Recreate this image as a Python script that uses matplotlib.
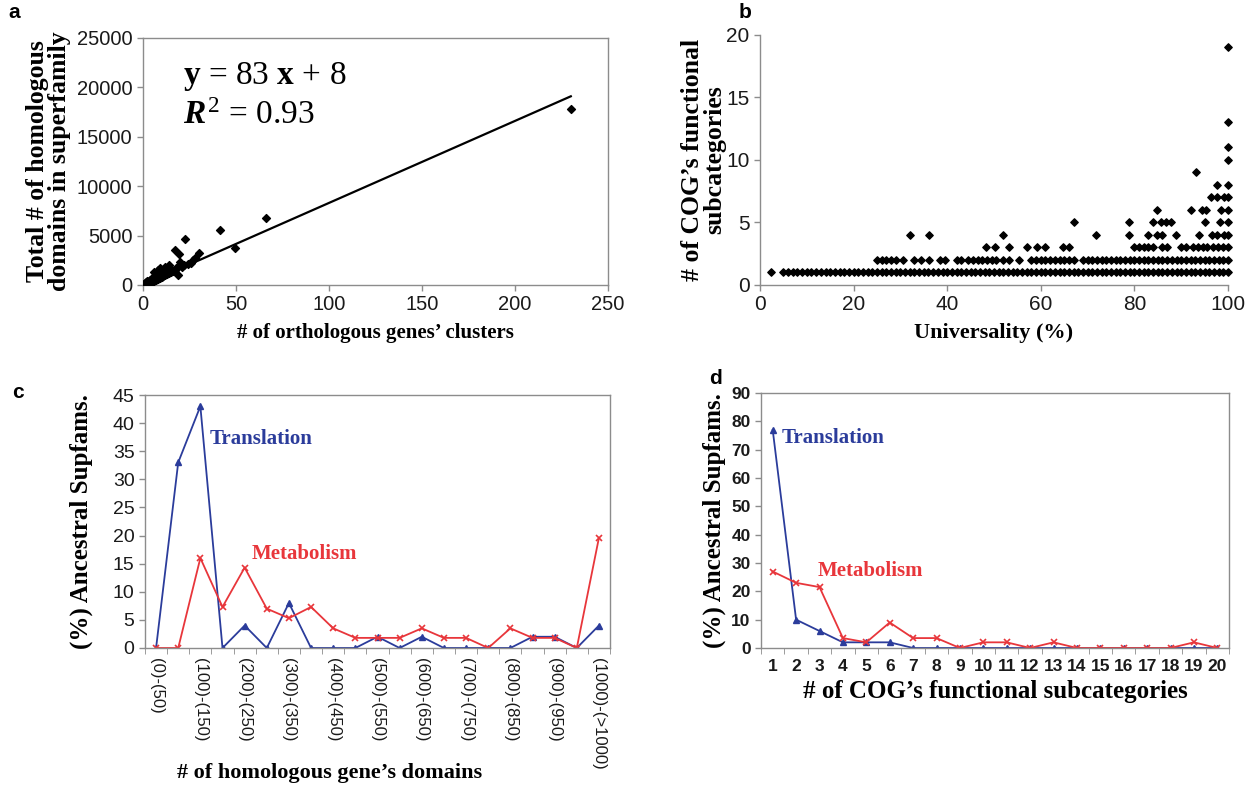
import numpy as np
import matplotlib
matplotlib.use('Agg')
import matplotlib.pyplot as plt

plt.rcParams['font.family'] = 'Liberation Sans'
plt.rcParams['mathtext.fontset'] = 'custom'
plt.rcParams['mathtext.rm'] = 'Liberation Serif'
plt.rcParams['mathtext.bf'] = 'Liberation Serif:bold'
plt.rcParams['mathtext.it'] = 'Liberation Serif:italic:bold'

SERIF = 'Liberation Serif'
SPINE = '#8c8c8c'
BLUE = '#2b3c9b'
RED = '#e8363b'

# --- panel a: superfamily size vs number of orthologous clusters ---
ortho_clusters = [0.5, 1, 1, 1.5, 1.5, 2, 2, 2, 2.5, 3, 3, 3, 3.5, 4, 4, 4, 4.5, 5, 5, 5,
                  5.5, 6, 6, 6, 6.5, 7, 7, 7, 7.5, 8, 8, 8, 9, 9, 9, 10, 10, 10, 11, 11,
                  12, 12, 13, 13, 14, 15, 15, 16, 17, 18, 19, 19, 20, 21, 22, 24, 26, 27, 28, 30,
                  17, 19.5, 22.4, 41.3, 49.4, 66.1, 230, 14, 12, 9, 6, 8]
homolog_domains = [60, 120, 200, 90, 300, 150, 250, 400, 180, 100, 300, 450, 250, 200, 350, 550, 400, 300, 500, 700,
                   450, 400, 600, 850, 550, 500, 700, 1100, 650, 600, 800, 1200, 700, 900, 1400, 800, 1000, 1300, 900, 1200,
                   1000, 1500, 1100, 1700, 1250, 1300, 1600, 1450, 1500, 1700, 1000, 1800, 2360, 1850, 2000, 2100, 2250, 2500, 2700, 3200,
                   3500, 3100, 4620, 5570, 3710, 6750, 17850, 2000, 1800, 1700, 1300, 1500]
fit_slope, fit_intercept = 83, 8
fit_x = [0, 230]

# --- panel b: universality vs number of COG functional subcategories ---
univ_by_subcat = {
    1: [2.3, 5, 6, 7, 8, 9, 10, 11, 12, 13, 14, 15, 16, 17, 18, 19, 20, 21, 22, 23, 24, 25, 26, 27, 28, 29, 30,
        31, 32, 33, 34, 35, 36, 37, 38, 39, 40, 41, 42, 43, 44, 45, 46, 47, 48, 49, 50, 51, 52, 53, 54, 55, 56,
        57, 58, 59, 60, 61, 62, 63, 64, 65, 66, 67, 68, 69, 70, 71, 72, 73, 74, 75, 76, 77, 78, 79, 80, 81, 82,
        83, 84, 85, 86, 87, 88, 89, 90, 91, 92, 93, 94, 95, 96, 97, 98, 99, 100],
    2: [25, 26, 27, 28, 29, 30.5, 33, 34.5, 36.2, 38.5, 39.5, 42, 43, 44.5, 45.5, 46.5, 47.5, 48.5, 49.5, 50.5,
        52, 53.2, 55.3, 58, 59, 60, 61, 62, 63, 64, 65, 66, 67, 69, 70, 71, 72, 73, 74, 75, 76, 77, 78, 79, 80,
        81, 82, 83, 84, 85, 86, 87, 88, 89, 90, 91, 92, 93, 94, 95, 96, 97, 98, 99, 100],
    3: [48.2, 50.2, 53.1, 57, 59.1, 60.9, 64.8, 66.1, 80, 81, 82, 83, 84, 85.8, 86.9, 89.9, 91, 92.6, 93.6, 94.6,
        95.5, 96.8, 97.8, 98.9, 100],
    4: [32.1, 36.2, 51.9, 71.8, 78.9, 82.8, 84.8, 85.8, 88.8, 93.8, 96.6, 97.6, 99.1, 100],
    5: [67, 78.9, 83.9, 85.6, 86.7, 87.8, 95, 98.2, 100],
    6: [84.8, 92.1, 94.4, 95.4, 98.4, 100],
    7: [96.3, 97.7, 99.2, 100],
    8: [97.7, 100],
    9: [93.2],
    10: [100],
    11: [100],
    13: [100],
    19: [100],
}

# --- panel c: ancestral superfamilies by number of homologous gene domains ---
domain_bins = ['(0)-(50)', '(50)-(100)', '(100)-(150)', '(150)-(200)', '(200)-(250)', '(250)-(300)',
               '(300)-(350)', '(350)-(400)', '(400)-(450)', '(450)-(500)', '(500)-(550)', '(550)-(600)',
               '(600)-(650)', '(650)-(700)', '(700)-(750)', '(750)-(800)', '(800)-(850)', '(850)-(900)',
               '(900)-(950)', '(950)-(1000)', '(1000)-(>1000)']
translation_c = [0, 33, 43, 0, 4, 0, 8, 0, 0, 0, 2, 0, 2, 0, 0, 0, 0, 2, 2, 0, 4]
metabolism_c = [0, 0, 16, 7.3, 14.3, 7, 5.3, 7.3, 3.5, 1.8, 1.8, 1.8, 3.5, 1.8, 1.8, 0, 3.5, 1.8, 1.8, 0, 19.6]

# --- panel d: ancestral superfamilies by number of COG functional subcategories ---
cog_subcats = [1, 2, 3, 4, 5, 6, 7, 8, 9, 10, 11, 12, 13, 14, 15, 16, 17, 18, 19, 20]
translation_d = [77, 10, 6, 2, 2, 2, 0, 0, 0, 0, 0, 0, 0, 0, 0, 0, 0, 0, 0, 0]
metabolism_d = [27, 23, 21.5, 3.5, 2, 9, 3.5, 3.5, 0, 2, 2, 0, 2, 0, 0, 0, 0, 0, 2, 0]

W, H = 1251, 790
fig = plt.figure(figsize=(W / 100, H / 100), dpi=100)


def box(l, t, r, b):
    return [l / W, 1 - b / H, (r - l) / W, (b - t) / H]


def style_axes(ax, spines=('left', 'bottom', 'top', 'right')):
    for s in ax.spines:
        ax.spines[s].set_visible(s in spines)
        ax.spines[s].set_color(SPINE)
        ax.spines[s].set_linewidth(1.0)
    ax.tick_params(colors=SPINE, labelcolor='#1a1a1a', length=4, width=1.0)


def ylabel_serif(ax, text, size, pad):
    ax.set_ylabel(text, family=SERIF, fontweight='bold', fontsize=size, labelpad=pad, linespacing=0.95)


def xlabel_serif(ax, text, size, pad):
    ax.set_xlabel(text, family=SERIF, fontweight='bold', fontsize=size, labelpad=pad)


# panel a
ax_a = fig.add_axes(box(143, 38, 608, 285))
style_axes(ax_a)
ax_a.scatter(ortho_clusters, homolog_domains, marker='D', s=16, color='black', zorder=3)
ax_a.plot(fit_x, [fit_slope * x + fit_intercept for x in fit_x], color='black', lw=1.6)
ax_a.set_xlim(0, 250)
ax_a.set_ylim(0, 25000)
ax_a.set_xticks([0, 50, 100, 150, 200, 250])
ax_a.set_yticks([0, 5000, 10000, 15000, 20000, 25000])
ax_a.tick_params(labelsize=14.5)
ax_a.text(21.5, 20300, r'$\mathbf{y}$ = 83 $\mathbf{x}$ + 8', family=SERIF, fontsize=24)
ax_a.text(21.5, 16300, r'$\mathit{R}^{\mathit{2}}$ = 0.93', family=SERIF, fontsize=24)
ylabel_serif(ax_a, 'Total # of homologous\ndomains in superfamily', 18.5, 4)
xlabel_serif(ax_a, '# of orthologous genes\u2019 clusters', 15, 6)

# panel b
ax_b = fig.add_axes(box(760, 35, 1228, 285))
style_axes(ax_b, spines=('left', 'bottom'))
for level, xs in univ_by_subcat.items():
    ax_b.scatter(xs, [level] * len(xs), marker='D', s=14, color='black', zorder=3, clip_on=False)
ax_b.set_xlim(0, 100)
ax_b.set_ylim(0, 20)
ax_b.set_xticks([0, 20, 40, 60, 80, 100])
ax_b.set_yticks([0, 5, 10, 15, 20])
ax_b.tick_params(labelsize=15)
ylabel_serif(ax_b, '# of COG\u2019s functional\nsubcategories', 18.5, 0)
xlabel_serif(ax_b, 'Universality (%)', 16, 6)

# panel c
ax_c = fig.add_axes(box(145, 395, 610, 648))
style_axes(ax_c)
xc = np.arange(len(domain_bins))
ax_c.plot(xc, translation_c, color=BLUE, lw=1.3, marker='^', ms=4)
ax_c.plot(xc, metabolism_c, color=RED, lw=1.3, marker='x', ms=4.5, mew=1.2)
ax_c.set_xlim(-0.5, len(domain_bins) - 0.5)
ax_c.set_ylim(0, 45)
ax_c.set_yticks(range(0, 46, 5))
ax_c.set_xticks(xc[::2])
ax_c.set_xticklabels(domain_bins[::2], rotation=270, fontsize=12)
ax_c.set_xticks(np.arange(-0.5, len(domain_bins), 1), minor=True)
ax_c.tick_params(axis='x', which='major', length=0, pad=7)
ax_c.tick_params(axis='x', which='minor', length=4, color=SPINE)
ax_c.tick_params(axis='y', labelsize=14)
ax_c.text(2.4, 37.2, 'Translation', color=BLUE, family=SERIF, fontweight='bold', fontsize=15, va='center')
ax_c.text(4.3, 16.8, 'Metabolism', color=RED, family=SERIF, fontweight='bold', fontsize=15, va='center')
ylabel_serif(ax_c, '(%) Ancestral Supfams.', 18, 14)
fig.text(330 / W, 1 - 773 / H, '# of homologous gene\u2019s domains', family=SERIF, fontweight='bold',
         fontsize=16, ha='center', va='center')

# panel d
ax_d = fig.add_axes(box(761, 393, 1229, 648))
style_axes(ax_d)
ax_d.plot(cog_subcats, translation_d, color=BLUE, lw=1.3, marker='^', ms=4)
ax_d.plot(cog_subcats, metabolism_d, color=RED, lw=1.3, marker='x', ms=4.5, mew=1.2)
ax_d.set_xlim(0.5, len(cog_subcats) + 0.5)
ax_d.set_ylim(0, 90)
ax_d.set_yticks(range(0, 91, 10))
ax_d.set_xticks(cog_subcats)
ax_d.set_xticks(np.arange(0.5, len(cog_subcats) + 1, 1), minor=True)
ax_d.tick_params(axis='x', which='major', length=0, pad=8)
ax_d.tick_params(axis='x', which='minor', length=4, color=SPINE)
ax_d.tick_params(labelsize=12.5)
for lab in ax_d.get_xticklabels() + ax_d.get_yticklabels():
    lab.set_fontweight('bold')
ax_d.text(1.4, 74, 'Translation', color=BLUE, family=SERIF, fontweight='bold', fontsize=15, va='center')
ax_d.text(2.9, 27, 'Metabolism', color=RED, family=SERIF, fontweight='bold', fontsize=15, va='center')
ylabel_serif(ax_d, '(%) Ancestral Supfams.', 18, 4)
xlabel_serif(ax_d, '# of COG\u2019s functional subcategories', 18, 4)

# panel letters
for letter, (px, py) in {'a': (14, 12), 'b': (745, 12), 'c': (18, 392), 'd': (716, 378)}.items():
    fig.text(px / W, 1 - py / H, letter, fontsize=15, fontweight='bold', ha='center', va='center')

fig.savefig('out.png', dpi=100)
